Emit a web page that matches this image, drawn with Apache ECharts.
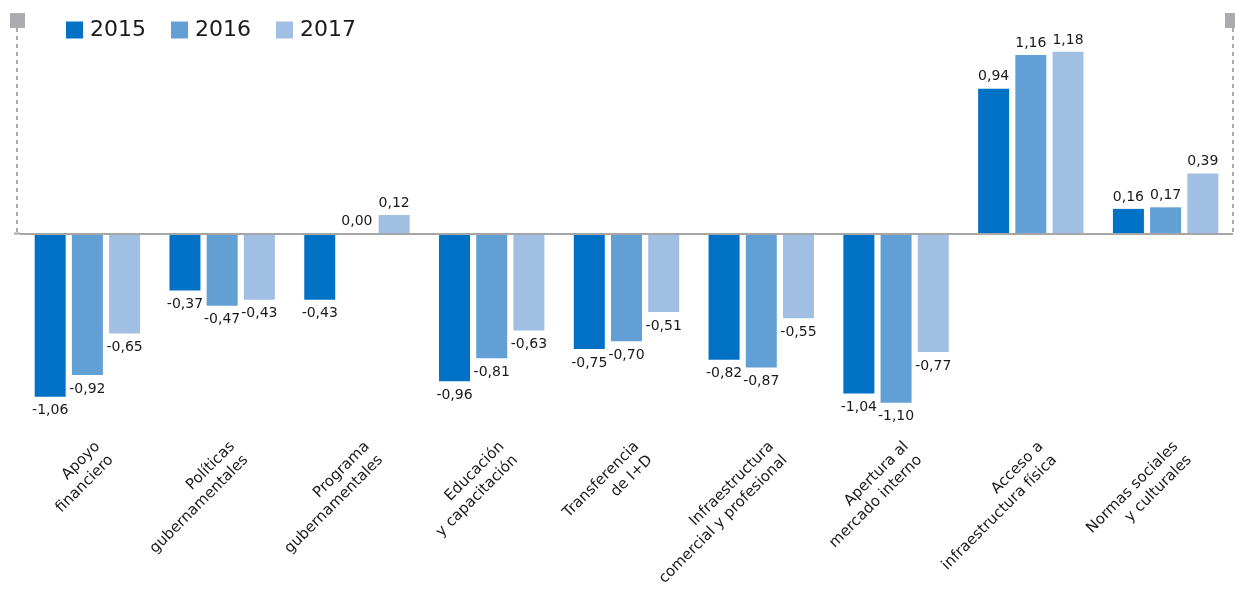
<!DOCTYPE html>
<html>
<head>
<meta charset="utf-8">
<script src="https://cdn.jsdelivr.net/npm/echarts@6/dist/echarts.min.js"></script>
<style>
  html, body { margin: 0; padding: 0; background: #ffffff; }
  #chart { width: 1235px; height: 594px; }
</style>
</head>
<body>
<div id="chart"></div>
<script>
// Categories (two-line labels) and yearly index values
const categories = [
  'Apoyo\nfinanciero',
  'Políticas\ngubernamentales',
  'Programa\ngubernamentales',
  'Educación\ny capacitación',
  'Transferencia\nde I+D',
  'Infraestructura\ncomercial y profesional',
  'Apertura al\nmercado interno',
  'Acceso a\ninfraestructura física',
  'Normas sociales\ny culturales'
];
const years = ['2015', '2016', '2017'];
const values2015 = [-1.06, -0.37, -0.43, -0.96, -0.75, -0.82, -1.04, 0.94, 0.16];
const values2016 = [-0.92, -0.47, 0.00, -0.81, -0.70, -0.87, -1.10, 1.16, 0.17];
const values2017 = [-0.65, -0.43, 0.12, -0.63, -0.51, -0.55, -0.77, 1.18, 0.39];
const colors = ['#0071c5', '#619fd5', '#a1bfe2'];

const FONT = 'DejaVu Sans';
const GRID_LEFT = 20, GRID_RIGHT = 2;
const FRAME_LEFT = 17;

function fmt(v) { return v.toFixed(2).replace('.', ','); }

function items(arr) {
  return arr.map(v => ({
    value: v,
    label: { position: v < 0 ? 'bottom' : 'top', distance: v < 0 ? 7 : 5 }
  }));
}

function barSeries(name, arr, color, extra) {
  return Object.assign({
    name: name,
    type: 'bar',
    barWidth: 31,
    barGap: '20%',
    itemStyle: { color: color },
    label: {
      show: true,
      fontFamily: FONT,
      fontSize: 14,
      color: '#1a1a1a',
      formatter: p => fmt(p.value)
    },
    data: items(arr)
  }, extra || {});
}

const chart = echarts.init(document.getElementById('chart'), null, { renderer: 'canvas' });

chart.setOption({
  animation: false,
  backgroundColor: '#ffffff',
  legend: {
    left: 61,
    top: 14,
    itemWidth: 17,
    itemHeight: 17,
    itemGap: 25,
    icon: 'rect',
    data: years,
    textStyle: { fontFamily: FONT, fontSize: 22, color: '#1a1a1a', padding: [0, 0, 0, 2] }
  },
  grid: { left: GRID_LEFT, right: GRID_RIGHT, top: 18, bottom: 145, containLabel: false },
  xAxis: {
    type: 'category',
    data: categories,
    axisLine: { show: false, onZero: false },
    axisTick: { show: false },
    axisLabel: {
      interval: 0,
      rotate: 45,
      margin: 19,
      fontFamily: FONT,
      fontSize: 15,
      lineHeight: 19,
      color: '#1a1a1a',
      padding: [0, -24, 0, 0]
    }
  },
  yAxis: {
    type: 'value',
    min: -1.4,
    max: 1.4,
    show: false,
    splitLine: { show: false }
  },
  series: [
    barSeries(years[0], values2015, colors[0], {
      markLine: {
        silent: true,
        symbol: ['none', 'none'],
        label: { show: false },
        lineStyle: { color: '#a6a6a6', width: 2, type: 'solid' },
        data: [{ yAxis: 0 }]
      }
    }),
    barSeries(years[1], values2016, colors[1]),
    barSeries(years[2], values2017, colors[2])
  ]
});

// Frame decorations: dashed side rules from the top handles down to the zero line
const zeroY = chart.convertToPixel({ yAxisIndex: 0 }, 0);
const W = chart.getWidth();
const xL = FRAME_LEFT, xR = W - GRID_RIGHT;
chart.setOption({
  graphic: [
    { type: 'line', shape: { x1: xL, y1: 28, x2: xL, y2: zeroY }, style: { stroke: '#aaaaaf', lineWidth: 2, lineDash: [4, 4] }, silent: true },
    { type: 'line', shape: { x1: xR, y1: 28, x2: xR, y2: zeroY }, style: { stroke: '#aaaaaf', lineWidth: 2, lineDash: [4, 4] }, silent: true },
    { type: 'line', shape: { x1: xL - 3, y1: zeroY, x2: GRID_LEFT, y2: zeroY }, style: { stroke: '#a6a6a6', lineWidth: 2 }, silent: true },
    { type: 'rect', shape: { x: 10, y: 13, width: 15, height: 15 }, style: { fill: '#ababb0' }, silent: true },
    { type: 'rect', shape: { x: xR - 8, y: 13, width: 15, height: 15 }, style: { fill: '#ababb0' }, silent: true }
  ]
});
</script>
</body>
</html>
